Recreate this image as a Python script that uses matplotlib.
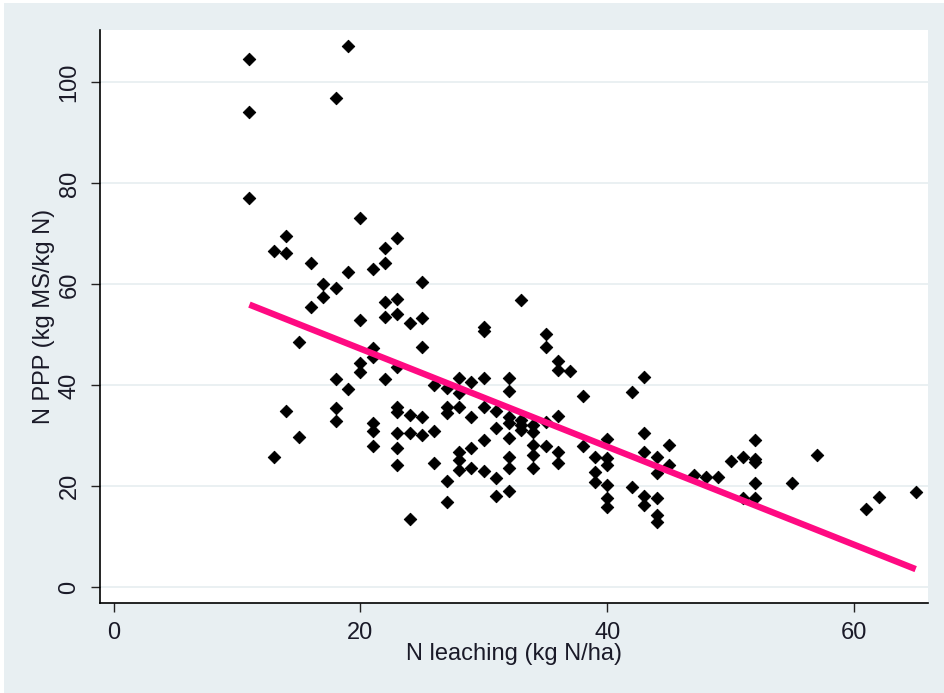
import matplotlib
matplotlib.use("Agg")
import matplotlib.pyplot as plt
from matplotlib.patches import Rectangle

plt.rcParams['font.family'] = ['Liberation Sans', 'DejaVu Sans']

# leaching (kg N/ha) vs N PPP (kg MS/kg N)
leaching = [
    11, 19, 11, 18, 11, 20, 14, 13, 14, 16, 22, 23, 22, 21, 19, 17, 18, 17, 16, 25,
    22, 23, 22, 23, 20, 24, 25,
    15, 25, 21, 21, 20, 20, 23, 18, 22, 19, 26, 27, 14, 18, 18, 23, 23, 24, 25, 27,
    27, 21, 21, 15, 23, 24, 25, 26, 21, 23, 13, 23, 26, 27, 27, 24,
    33, 30, 30, 35, 35, 36, 36, 37, 28, 29, 30, 32, 32, 28, 28, 30, 29, 31, 32, 32,
    33, 33, 33, 34, 34, 31, 36, 35, 38, 42, 43, 43, 32, 30, 29, 28, 28, 28, 29, 30,
    32, 32, 34, 34, 35, 36, 36, 34, 38, 40, 39, 39, 39, 40, 40, 40, 40, 40, 42, 43,
    43, 43, 44, 44, 44, 44, 44, 31, 31, 32,
    45, 45, 47, 48, 49, 50, 51, 52, 52, 52, 52, 52, 51, 55, 57, 61, 62, 65,
]
nppp = [
    104.6, 107.3, 94.1, 97.0, 77.1, 73.1, 69.6, 66.7, 66.2, 64.3, 67.2, 69.2, 64.3, 63.1,
    62.4, 60.1, 59.2, 57.6, 55.6, 60.4, 56.5, 57.2, 53.6, 54.1, 53.0, 52.4, 53.3,
    48.5, 47.7, 47.4, 45.7, 44.4, 42.6, 43.7, 41.3, 41.3, 39.3, 40.1, 39.4, 35.0, 35.5,
    33.0, 35.7, 34.8, 34.1, 33.7, 35.7, 34.6, 32.5, 31.0, 29.8, 30.5, 30.5, 30.1, 31.0,
    27.9, 27.5, 25.9, 24.2, 24.6, 21.1, 16.8, 13.5,
    56.9, 51.6, 50.7, 50.1, 47.6, 44.8, 43.1, 42.9, 41.5, 40.6, 41.5, 41.5, 38.9, 38.4,
    35.8, 35.8, 33.8, 34.9, 33.8, 32.5, 33.2, 32.2, 31.2, 32.2, 30.8, 31.6, 34.0, 32.8,
    37.8, 38.6, 41.7, 30.6, 29.5, 29.2, 27.5, 26.9, 25.2, 23.2, 23.7, 23.1, 25.9, 23.6,
    28.2, 26.2, 27.9, 26.9, 24.7, 23.6, 27.9, 29.4, 25.9, 22.9, 20.8, 25.6, 24.2, 20.3,
    17.6, 16.0, 19.9, 26.9, 18.0, 16.3, 25.9, 22.6, 17.6, 14.3, 13.0, 21.6, 18.0, 19.1,
    28.2, 24.2, 22.3, 21.8, 21.8, 25.1, 25.8, 29.1, 25.4, 24.9, 20.6, 17.6, 17.6, 20.6,
    26.2, 15.5, 17.8, 18.9,
]

# fitted line end points
fit_x = [11, 65]
fit_y = [56.0, 3.6]

xticks = [0, 20, 40, 60]
yticks = [0, 20, 40, 60, 80, 100]

bg = '#E8EFF2'
txt = '#1a1a28'

fig = plt.figure(figsize=(9.44, 6.93), dpi=100, facecolor='white')
fig.patches.append(Rectangle((4 / 944, 0), 1, 1 - 3 / 693, transform=fig.transFigure,
                             facecolor=bg, edgecolor='none', zorder=-10))

ax = fig.add_axes([100 / 944, 1 - 602.7 / 693, 828 / 944, 572.7 / 693])
ax.set_facecolor('white')

ax.scatter(leaching, nppp, marker='D', s=40, color='black', edgecolors='black',
           linewidths=0.7, zorder=3)
ax.plot(fit_x, fit_y, color='#FF0A82', lw=4.6, solid_capstyle='butt', zorder=4)

ax.set_xlim(-1.11, 66.0)
ax.set_ylim(-3.05, 110.4)
ax.set_xticks(xticks)
ax.set_yticks(yticks)
ax.yaxis.grid(True, color='#E4ECEF', lw=1.1)
ax.set_axisbelow(True)

for s in ['top', 'right']:
    ax.spines[s].set_visible(False)
for s in ['left', 'bottom']:
    ax.spines[s].set_linewidth(1.2)
    ax.spines[s].set_color('black')

ax.tick_params(axis='both', direction='out', length=6.5, width=1.0, color='#222222',
               labelsize=17, labelcolor=txt, pad=7.5)
for lab in ax.get_yticklabels():
    lab.set_rotation(90)
    lab.set_va('center')

ax.set_xlabel('N leaching (kg N/ha)', fontsize=17, color=txt, va='center')
ax.xaxis.set_label_coords(0.5, (602.7 - 654) / 572.7)
ax.set_ylabel('N PPP (kg MS/kg N)', fontsize=17, color=txt, va='center')
ax.yaxis.set_label_coords((44 - 100) / 828, 0.5)

fig.savefig('out.png', dpi=100, facecolor=fig.get_facecolor())
